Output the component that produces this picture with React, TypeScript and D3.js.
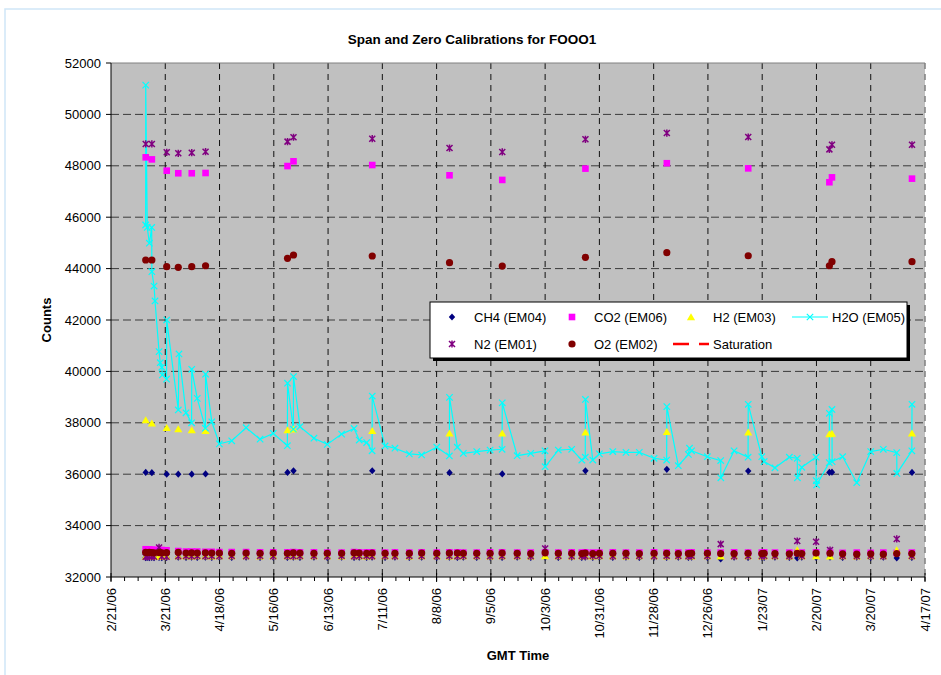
import * as d3 from 'd3';

// ---- data ----
const xTickLabels = [
  '2/21/06', '3/21/06', '4/18/06', '5/16/06', '6/13/06', '7/11/06', '8/8/06', '9/5/06',
  '10/3/06', '10/31/06', '11/28/06', '12/26/06', '1/23/07', '2/20/07', '3/20/07', '4/17/07',
];
const yTicks = [32000, 34000, 36000, 38000, 40000, 42000, 44000, 46000, 48000, 50000, 52000];

// span calibrations (same times for all the bottle gases)
const spanTimes = [
  '2006-03-10 22', '2006-03-14 02', '2006-03-21 18', '2006-03-27 17', '2006-04-03 16', '2006-04-10 19',
  '2006-05-23 02', '2006-05-26 04', '2006-07-05 19', '2006-08-14 16', '2006-09-10 21', '2006-10-23 19',
  '2006-12-04 19', '2007-01-15 19', '2007-02-26 16', '2007-02-28 00', '2007-04-10 07',
];
const ch4Span = [36070, 36060, 36000, 36000, 36000, 36010, 36070, 36130, 36135, 36060, 36010, 36135, 36190, 36125, 36070, 36080, 36070];
const co2Span = [48330, 48250, 47810, 47710, 47710, 47720, 47990, 48175, 48030, 47630, 47450, 47890, 48100, 47900, 47360, 47550, 47500];
const h2Span = [38110, 37980, 37810, 37760, 37720, 37690, 37720, 37750, 37690, 37590, 37590, 37630, 37650, 37630, 37560, 37580, 37590];
const n2Span = [48850, 48850, 48525, 48485, 48510, 48550, 48940, 49110, 49055, 48690, 48540, 49030, 49275, 49120, 48640, 48820, 48820];
const o2Span = [44335, 44335, 44075, 44050, 44075, 44110, 44400, 44530, 44490, 44230, 44100, 44440, 44620, 44500, 44110, 44270, 44270];

// zero calibrations
const zeroTimes = [
  '2006-03-10 21', '2006-03-11 17', '2006-03-12 19', '2006-03-14 00', '2006-03-15 05', '2006-03-17 19', '2006-03-19 05', '2006-03-21 16', '2006-03-27 17', '2006-03-31 17', '2006-04-03 14', '2006-04-06 12', '2006-04-10 17', '2006-04-14 00', '2006-04-17 22',
  '2006-04-24 07', '2006-05-01 17', '2006-05-08 22', '2006-05-15 17', '2006-05-23 00', '2006-05-26 02', '2006-05-29 12', '2006-06-05 17', '2006-06-12 14', '2006-06-20 00', '2006-06-26 10', '2006-06-29 02', '2006-07-02 22', '2006-07-05 17', '2006-07-12 10',
  '2006-07-17 12', '2006-07-24 22', '2006-07-31 07', '2006-08-08 02', '2006-08-14 14', '2006-08-18 17', '2006-08-21 19', '2006-08-28 17', '2006-09-04 14', '2006-09-10 19', '2006-09-18 14', '2006-09-25 14', '2006-10-03 00', '2006-10-09 19', '2006-10-16 17',
  '2006-10-21 22', '2006-10-23 17', '2006-10-27 14', '2006-10-31 00', '2006-11-06 22', '2006-11-13 17', '2006-11-20 14', '2006-11-28 05', '2006-12-04 17', '2006-12-10 17', '2006-12-15 22', '2006-12-17 14', '2006-12-25 17', '2007-01-01 14', '2007-01-08 12',
  '2007-01-15 17', '2007-01-22 19', '2007-01-24 00', '2007-01-29 14', '2007-02-06 00', '2007-02-10 02', '2007-02-12 10', '2007-02-19 19', '2007-02-27 00', '2007-03-05 12', '2007-03-12 19', '2007-03-20 00', '2007-03-26 12', '2007-04-02 10', '2007-04-10 05',
];
const ch4Zero = [
  32750, 32760, 32750, 32760, 32750, 32760, 32750, 32760, 32770, 32760, 32770, 32760, 32770, 32760, 32770,
  32760, 32770, 32760, 32770, 32760, 32770, 32760, 32770, 32760, 32770, 32760, 32770, 32760, 32770, 32760,
  32770, 32760, 32770, 32760, 32770, 32760, 32770, 32760, 32770, 32760, 32770, 32760, 32770, 32760, 32770,
  32760, 32770, 32760, 32770, 32760, 32770, 32760, 32770, 32760, 32770, 32760, 32770, 32760, 32700, 32770,
  32760, 32770, 32760, 32770, 32760, 32740, 32770, 32760, 32770, 32760, 32770, 32760, 32770, 32740, 32760,
];
const co2Zero = [
  33080, 33070, 33070, 33060, 33060, 33050, 33050, 33040, 33010, 32990, 32990, 32990, 32980, 32980, 32970,
  32970, 32970, 32960, 32960, 32960, 32970, 32960, 32960, 32950, 32950, 32970, 32960, 32960, 32960, 32950,
  32960, 32950, 32960, 32950, 32960, 32960, 32950, 32950, 32960, 32960, 32950, 32950, 32960, 32950, 32960,
  32950, 32960, 32950, 32950, 32960, 32950, 32950, 32960, 32950, 32950, 32950, 32960, 32950, 32950, 32960,
  32950, 32950, 32960, 32950, 32950, 32940, 32950, 32960, 32950, 32940, 32950, 32940, 32950, 32940, 32950,
];
const h2Zero = [
  32800, 32810, 32800, 32810, 32800, 32810, 32800, 32810, 32820, 32820, 32810, 32820, 32820, 32810, 32820,
  32820, 32820, 32810, 32820, 32820, 32810, 32820, 32820, 32820, 32810, 32820, 32820, 32810, 32820, 32820,
  32820, 32810, 32820, 32820, 32810, 32820, 32820, 32820, 32810, 32820, 32820, 32810, 32820, 32820, 32810,
  32820, 32820, 32810, 32820, 32820, 32810, 32820, 32820, 32810, 32820, 32820, 32810, 32820, 32810, 32820,
  32820, 32810, 32820, 32820, 32810, 33050, 32820, 32820, 32810, 32820, 32810, 32820, 32820, 33050, 32820,
];
const n2Zero = [
  32790, 32800, 32790, 32800, 32790, 33150, 32800, 32790, 32810, 32820, 32810, 32820, 32810, 32820, 32810,
  32820, 32810, 32820, 32810, 32820, 32810, 32820, 32820, 32810, 32820, 32810, 32820, 32820, 32810, 32820,
  32810, 32820, 32820, 32810, 32820, 32810, 32820, 32820, 32810, 32820, 32820, 32810, 33110, 32820, 32810,
  32820, 32810, 32820, 32820, 32810, 32820, 32820, 32810, 32820, 32820, 32810, 32820, 32820, 33280, 32810,
  32820, 32810, 32820, 32820, 32810, 33400, 32820, 33370, 33050, 32820, 32810, 32820, 32810, 33480, 32820,
];
const o2Zero = [
  32960, 32950, 32960, 32950, 32940, 32950, 32940, 32950, 32960, 32930, 32940, 32930, 32940, 32930, 32930,
  32920, 32930, 32920, 32930, 32920, 32940, 32930, 32920, 32920, 32920, 32940, 32930, 32920, 32930, 32920,
  32920, 32920, 32930, 32920, 32930, 32930, 32920, 32920, 32920, 32930, 32920, 32910, 32940, 32920, 32920,
  32910, 32930, 32910, 32920, 32920, 32920, 32910, 32920, 32920, 32910, 32910, 32920, 32920, 32910, 32910,
  32920, 32910, 32920, 32910, 32900, 32920, 32910, 32930, 32920, 32900, 32890, 32900, 32890, 32910, 32910,
];

// water vapour, every reading joined by a line
const h2oTimes = [
  '2006-03-10 21', '2006-03-10 22', '2006-03-11 17', '2006-03-12 19', '2006-03-14 00', '2006-03-14 02', '2006-03-15 05', '2006-03-15 17', '2006-03-17 19', '2006-03-18 10',
  '2006-03-19 05', '2006-03-19 12', '2006-03-21 16', '2006-03-21 18', '2006-03-27 17', '2006-03-28 02', '2006-03-31 17', '2006-04-03 14', '2006-04-03 16', '2006-04-06 12',
  '2006-04-10 17', '2006-04-10 19', '2006-04-14 00', '2006-04-17 22', '2006-04-24 07', '2006-05-01 17', '2006-05-08 22', '2006-05-15 17', '2006-05-23 00', '2006-05-23 02',
  '2006-05-26 02', '2006-05-26 04', '2006-05-29 12', '2006-06-05 17', '2006-06-12 14', '2006-06-20 00', '2006-06-26 10', '2006-06-29 02', '2006-07-02 22', '2006-07-05 17',
  '2006-07-05 19', '2006-07-12 10', '2006-07-17 12', '2006-07-24 22', '2006-07-31 07', '2006-08-08 02', '2006-08-14 14', '2006-08-14 16', '2006-08-18 17', '2006-08-21 19',
  '2006-08-28 17', '2006-09-04 14', '2006-09-10 19', '2006-09-10 21', '2006-09-18 14', '2006-09-25 14', '2006-10-02 22', '2006-10-03 00', '2006-10-09 19', '2006-10-16 17',
  '2006-10-21 22', '2006-10-23 17', '2006-10-23 19', '2006-10-27 14', '2006-10-31 00', '2006-11-06 22', '2006-11-13 17', '2006-11-20 14', '2006-11-28 05', '2006-12-04 17',
  '2006-12-04 19', '2006-12-10 17', '2006-12-15 22', '2006-12-16 12', '2006-12-17 14', '2006-12-25 17', '2007-01-01 14', '2007-01-01 16', '2007-01-08 12', '2007-01-15 17',
  '2007-01-15 19', '2007-01-22 19', '2007-01-24 00', '2007-01-29 14', '2007-02-06 00', '2007-02-10 02', '2007-02-10 04', '2007-02-12 10', '2007-02-19 19', '2007-02-19 21',
  '2007-02-20 02', '2007-02-26 14', '2007-02-26 16', '2007-02-28 00', '2007-02-28 02', '2007-03-05 12', '2007-03-12 19', '2007-03-20 00', '2007-03-26 12', '2007-04-02 10',
  '2007-04-02 12', '2007-04-10 05', '2007-04-10 07',
];
const h2oValues = [
  45700, 51140, 45600, 44990, 45600, 43880, 43320, 42740, 40770, 40340,
  40160, 39860, 39700, 42000, 38500, 40680, 38390, 38000, 40080, 38950,
  37790, 39890, 38040, 37180, 37300, 37810, 37360, 37590, 37110, 39540,
  37750, 39800, 37850, 37400, 37160, 37560, 37780, 37330, 37230, 36910,
  39040, 37100, 37010, 36790, 36750, 37050, 36710, 38990, 37050, 36810,
  36880, 36940, 36970, 38780, 36720, 36810, 36910, 36290, 36940, 36970,
  36550, 36660, 38910, 36550, 36790, 36880, 36850, 36850, 36620, 36550,
  38630, 36330, 36770, 37010, 36910, 36680, 36530, 35860, 36910, 36660,
  38720, 36680, 36490, 36250, 36660, 36620, 35860, 36270, 36660, 35750,
  35580, 36450, 38370, 38520, 36490, 36680, 35670, 36880, 36970, 36840,
  36030, 36910, 38720,
];

const FONT = '"Liberation Sans", Arial, sans-serif';
const parseTime = d3.timeParse('%Y-%m-%d %H');
const parseTick = d3.timeParse('%m/%d/%y');

type Pt = { t: Date; v: number };
const pts = (times: string[], vals: number[]): Pt[] =>
  vals.map((v, i) => ({ t: parseTime(times[i]) as Date, v }));

// marker shapes
const diamond = 'M0,-3.6L3.2,0L0,3.6L-3.2,0Z';
const triangle = 'M0,-3.8L4.1,3.2L-4.1,3.2Z';
const cross = 'M-3.2,-3.2L3.2,3.2M-3.2,3.2L3.2,-3.2';
const star = 'M-3,-3L3,3M-3,3L3,-3M0,-3.6L0,3.6';

function Marker({ kind, x, y }: { kind: string; x: number; y: number }) {
  const tr = `translate(${x},${y})`;
  if (kind === 'CH4') return <path d={diamond} transform={tr} fill="#000080" />;
  if (kind === 'CO2') return <rect x={x - 3.3} y={y - 3.3} width={6.6} height={6.6} fill="#FF00FF" />;
  if (kind === 'H2') return <path d={triangle} transform={tr} fill="#FFFF00" />;
  if (kind === 'H2O') return <path d={cross} transform={tr} stroke="#00FFFF" strokeWidth={1.2} fill="none" />;
  if (kind === 'N2') return <path d={star} transform={tr} stroke="#800080" strokeWidth={1.5} fill="none" />;
  return <circle cx={x} cy={y} r={3.6} fill="#800000" />;
}

export default function App() {
  const left = 111, right = 925, top = 63, bottom = 577;
  const tickDates = xTickLabels.map((s) => parseTick(s) as Date);
  const x = d3.scaleTime().domain([tickDates[0], tickDates[tickDates.length - 1]]).range([left, right]);
  const y = d3.scaleLinear().domain([32000, 52000]).range([bottom, top]);
  const minor = d3.range(0, 421, 7).map((d) => d3.timeDay.offset(tickDates[0], d));
  const fmt = d3.timeFormat('%-m/%-d/%y');

  const series: { kind: string; data: Pt[] }[] = [
    { kind: 'CH4', data: [...pts(zeroTimes, ch4Zero), ...pts(spanTimes, ch4Span)] },
    { kind: 'CO2', data: [...pts(zeroTimes, co2Zero), ...pts(spanTimes, co2Span)] },
    { kind: 'H2', data: [...pts(zeroTimes, h2Zero), ...pts(spanTimes, h2Span)] },
    { kind: 'H2O', data: pts(h2oTimes, h2oValues) },
    { kind: 'N2', data: [...pts(zeroTimes, n2Zero), ...pts(spanTimes, n2Span)] },
    { kind: 'O2', data: [...pts(zeroTimes, o2Zero), ...pts(spanTimes, o2Span)] },
  ];
  const h2o = pts(h2oTimes, h2oValues);
  const line = d3.line<Pt>().x((d) => x(d.t)).y((d) => y(d.v));

  const legendRows = [
    [
      { kind: 'CH4', label: 'CH4 (EM04)', mx: 452 },
      { kind: 'CO2', label: 'CO2 (EM06)', mx: 572 },
      { kind: 'H2', label: 'H2 (EM03)', mx: 691 },
      { kind: 'H2O', label: 'H2O (EM05)', mx: 810 },
    ],
    [
      { kind: 'N2', label: 'N2 (EM01)', mx: 452 },
      { kind: 'O2', label: 'O2 (EM02)', mx: 572 },
      { kind: 'SAT', label: 'Saturation', mx: 691 },
    ],
  ];

  return (
    <svg
      width={941}
      height={675}
      style={{ position: 'absolute', left: 0, top: 0, background: '#fff' }}
      fontFamily={FONT}
    >
      {/* outer chart frame */}
      <rect x={5} y={9} width={960} height={700} fill="#fff" stroke="#cfe6f7" strokeWidth={1.5} />

      <text x={472} y={44} textAnchor="middle" fontSize={13.5} fontWeight="bold">
        Span and Zero Calibrations for FOOO1
      </text>

      {/* plot area */}
      <rect x={left} y={top} width={right - left} height={bottom - top} fill="#C0C0C0" />
      {yTicks.slice(1, -1).map((v) => (
        <line key={v} x1={left} x2={right} y1={y(v)} y2={y(v)} stroke="#3a3a3a" strokeDasharray="8,4" />
      ))}
      {tickDates.slice(1).map((d, i) => (
        <line
          key={i}
          x1={x(d)}
          x2={x(d)}
          y1={top}
          y2={bottom}
          stroke={i === tickDates.length - 2 ? '#808080' : '#111'}
          strokeWidth={i === tickDates.length - 2 ? 1.5 : 1}
          strokeDasharray="6,5"
        />
      ))}
      <line x1={left} x2={right} y1={top} y2={top} stroke="#808080" />

      {/* axes */}
      <line x1={left} x2={left} y1={top} y2={bottom} stroke="#000" />
      <line x1={left} x2={right} y1={bottom} y2={bottom} stroke="#000" />
      {yTicks.map((v) => (
        <g key={v}>
          <line x1={left - 5} x2={left} y1={y(v)} y2={y(v)} stroke="#000" />
          <text x={left - 10} y={y(v)} dy="0.35em" textAnchor="end" fontSize={13}>
            {v}
          </text>
        </g>
      ))}
      {minor.map((d, i) => (
        <line key={i} x1={x(d)} x2={x(d)} y1={bottom} y2={bottom + 4} stroke="#000" />
      ))}
      {tickDates.map((d, i) => (
        <g key={i}>
          <line x1={x(d)} x2={x(d)} y1={bottom - 4} y2={bottom + 5} stroke="#000" />
          <text
            transform={`translate(${x(d)},${bottom + 11}) rotate(-90)`}
            dy="0.35em"
            textAnchor="end"
            fontSize={13}
          >
            {fmt(d)}
          </text>
        </g>
      ))}

      <text transform={`translate(51,${(top + bottom) / 2}) rotate(-90)`} textAnchor="middle" fontSize={13} fontWeight="bold">
        Counts
      </text>
      <text x={(left + right) / 2} y={660} textAnchor="middle" fontSize={13} fontWeight="bold">
        GMT Time
      </text>

      {/* line first, then every series' markers in Excel order */}
      <path d={line(h2o) ?? ''} fill="none" stroke="#00FFFF" strokeWidth={1.2} />
      {series.map((s) =>
        s.data.map((d, i) => <Marker key={s.kind + i} kind={s.kind} x={x(d.t)} y={y(d.v)} />)
      )}

      {/* legend */}
      <rect x={433} y={305} width={477} height={56} fill="#000" />
      <rect x={430} y={302} width={477} height={56} fill="#fff" stroke="#000" />
      {legendRows.map((row, r) =>
        row.map((e) => {
          const ly = 317 + r * 27;
          return (
            <g key={e.label}>
              {e.kind === 'H2O' && <line x1={792} x2={828} y1={ly} y2={ly} stroke="#00FFFF" strokeWidth={1.2} />}
              {e.kind === 'SAT' ? (
                <line x1={673} x2={709} y1={ly} y2={ly} stroke="#FF0000" strokeWidth={2.5} strokeDasharray="16,10" />
              ) : (
                <Marker kind={e.kind} x={e.mx} y={ly} />
              )}
              <text x={e.kind === 'SAT' ? 713 : e.mx + 22} y={ly} dy="0.35em" fontSize={13}>
                {e.label}
              </text>
            </g>
          );
        })
      )}
    </svg>
  );
}
